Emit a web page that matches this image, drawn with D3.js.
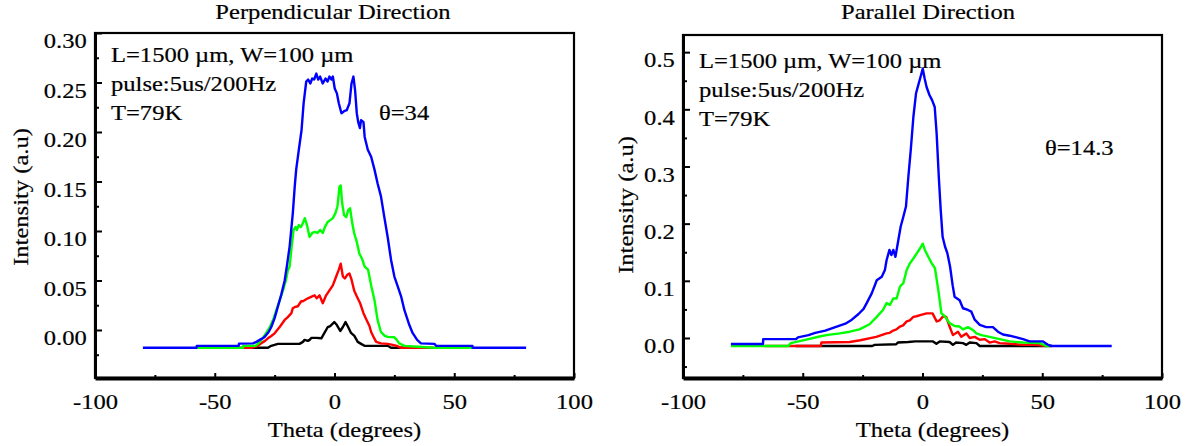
<!DOCTYPE html>
<html>
<head>
<meta charset="utf-8">
<script src="https://cdn.jsdelivr.net/npm/d3@7"></script>
<style>
  body { margin: 0; background: #fff; }
</style>
</head>
<body>
<div id="chart"></div>
<script>
const perpBlue = [[-80,-0.018],[-57.6,-0.018],[-57.5,-0.016],[-40,-0.016],[-39.9,-0.0138],[-34,-0.0135],[-32.6,-0.012],[-30.5,-0.009],[-29.2,-0.007],[-27.5,-0.002],[-26.4,0.003],[-25,0.012],[-23.6,0.024],[-22.2,0.036],[-20.8,0.05],[-19.8,0.066],[-18.75,0.084],[-17.4,0.118],[-16.6,0.145],[-16,0.162],[-14.9,0.182],[-13.75,0.202],[-12.9,0.229],[-11.8,0.251],[-11,0.253],[-10.1,0.249],[-9.3,0.254],[-8.5,0.253],[-7.6,0.259],[-6.8,0.253],[-6,0.256],[-4.9,0.249],[-3.75,0.254],[-2.9,0.251],[-2.1,0.256],[-1.25,0.253],[-0.7,0.256],[0.1,0.244],[1,0.239],[1.8,0.229],[2.9,0.219],[4,0.221],[5.1,0.222],[6.25,0.229],[7.1,0.249],[7.9,0.256],[8.6,0.242],[9.3,0.219],[9.9,0.21],[10.6,0.204],[11.1,0.212],[12.1,0.21],[12.6,0.195],[13.9,0.182],[15.3,0.175],[16.7,0.162],[18,0.148],[19.4,0.135],[20.8,0.114],[22.2,0.094],[23.6,0.071],[25,0.054],[26.4,0.044],[27.8,0.034],[29.2,0.02],[31.25,0.005],[32.6,-0.003],[34.5,-0.01],[36.1,-0.0135],[41.7,-0.014],[42.4,-0.016],[57.6,-0.016],[57.7,-0.018],[80,-0.018]];
const perpGreen = [[-57.6,-0.018],[-38.2,-0.018],[-38.1,-0.016],[-33,-0.016],[-31.5,-0.013],[-29.9,-0.008],[-28.5,-0.003],[-27,0.003],[-25.5,0.011],[-24.3,0.02],[-22.9,0.03],[-21.5,0.04],[-20.3,0.05],[-19.4,0.061],[-18.75,0.064],[-17.9,0.084],[-17.1,0.101],[-16.25,0.104],[-15.7,0.101],[-14.9,0.106],[-14,0.104],[-13.2,0.108],[-12.4,0.113],[-11.5,0.106],[-10.4,0.094],[-9.3,0.098],[-8.2,0.099],[-7.1,0.098],[-6,0.101],[-4.9,0.098],[-4,0.104],[-2.9,0.109],[-1.8,0.111],[-0.7,0.113],[0.4,0.118],[1.25,0.125],[2.1,0.145],[2.6,0.146],[3.2,0.128],[4,0.116],[4.9,0.114],[5.7,0.121],[6.5,0.123],[7.4,0.108],[8.2,0.098],[9.3,0.089],[10.4,0.077],[11.5,0.072],[12.6,0.064],[14,0.061],[15.4,0.044],[16.7,0.03],[18,0.01],[19.4,-0.002],[21,-0.006],[22.2,-0.007],[25,-0.0074],[26,-0.01],[27,-0.0135],[29.2,-0.016],[35,-0.017],[41.7,-0.018],[57.6,-0.018]];
const perpRed = [[-50,-0.018],[-34.7,-0.018],[-32,-0.016],[-30.6,-0.0135],[-29,-0.011],[-27.8,-0.0084],[-26.4,-0.006],[-25,-0.0034],[-22.9,0.003],[-20.8,0.0101],[-19.5,0.013],[-18,0.017],[-17.4,0.022],[-16.7,0.023],[-15.3,0.024],[-13.9,0.029],[-13.2,0.029],[-11.1,0.032],[-9.3,0.034],[-8.3,0.035],[-7.4,0.032],[-6.25,0.035],[-4.9,0.027],[-3.5,0.035],[-2.1,0.04],[-0.7,0.045],[0.7,0.054],[1.8,0.061],[2.6,0.067],[3.5,0.054],[4.3,0.052],[5.4,0.056],[6.25,0.057],[7.1,0.051],[8.2,0.04],[9.3,0.034],[10.7,0.027],[12.1,0.017],[13.2,0.011],[14.6,0.004],[15.3,-0.002],[16.5,-0.008],[17.4,-0.012],[19.4,-0.0135],[22.2,-0.014],[24.3,-0.015],[26,-0.016],[27.8,-0.018],[41.7,-0.018]];
const perpBlack = [[-37.5,-0.018],[-27.8,-0.018],[-26.4,-0.016],[-23.6,-0.014],[-14.6,-0.014],[-13.2,-0.012],[-12.5,-0.01],[-11.1,-0.011],[-10.4,-0.01],[-9.7,-0.008],[-7.6,-0.008],[-5.5,-0.0084],[-4.2,-0.003],[-2.8,0.003],[-1.8,0.004],[-0.1,0.008],[1,0.005],[2.4,-0.001],[3.5,0.003],[4.6,0.008],[5.7,0.003],[6.9,-0.003],[8.3,-0.006],[9.7,-0.012],[11.1,-0.014],[12.5,-0.016],[22.2,-0.016],[23.6,-0.018],[30,-0.018]];

const parBlue = [[-80,-0.0105],[-66.6,-0.0105],[-66.5,-0.002],[-52.8,-0.002],[-52,0.001],[-47.6,0.005],[-44.8,0.009],[-40.6,0.013],[-36.4,0.019],[-32.2,0.025],[-29.5,0.032],[-26.7,0.042],[-24.6,0.051],[-23.3,0.061],[-21.2,0.078],[-19.1,0.101],[-17,0.107],[-15.7,0.119],[-15,0.136],[-13.8,0.154],[-13,0.145],[-12.2,0.154],[-11.3,0.142],[-10.1,0.171],[-9.1,0.195],[-8,0.212],[-6.9,0.23],[-5.9,0.282],[-4.9,0.329],[-3.8,0.387],[-2.7,0.428],[-1.6,0.445],[-0.8,0.457],[0.1,0.471],[0.9,0.454],[1.7,0.439],[2.9,0.425],[4,0.416],[5.1,0.404],[5.9,0.358],[6.8,0.282],[7.6,0.224],[8.4,0.177],[9.4,0.16],[10.4,0.148],[11.5,0.125],[12.6,0.092],[13.4,0.072],[15.5,0.066],[16.9,0.052],[19,0.049],[20.4,0.046],[21.8,0.032],[23.9,0.023],[26.6,0.019],[29.4,0.019],[31.5,0.011],[33.6,0.006],[36.4,0.004],[42,-0.002],[44.7,-0.006],[50.3,-0.006],[52.4,-0.012],[54,-0.014],[79,-0.014]];
const parGreen = [[-80,-0.014],[-56,-0.014],[-55,-0.009],[-48.5,-0.003],[-42.5,0.003],[-40.2,0.005],[-34.6,0.008],[-30.4,0.011],[-26.3,0.015],[-22.1,0.024],[-19.3,0.036],[-16.5,0.049],[-15,0.061],[-13.6,0.058],[-12.2,0.069],[-10.8,0.069],[-9.4,0.09],[-8,0.096],[-6.6,0.119],[-5.2,0.131],[-3.8,0.139],[-2.4,0.148],[-1,0.157],[0.1,0.165],[1,0.154],[2.4,0.142],[3.8,0.131],[5.2,0.122],[6.6,0.084],[7.9,0.043],[9.3,0.038],[11.3,0.026],[13.4,0.021],[15.5,0.02],[16.9,0.015],[19,0.019],[21,0.014],[22.5,0.008],[24.6,0.005],[28,0.002],[32.2,-0.002],[36.4,-0.006],[42,-0.008],[48.9,-0.009],[51.7,-0.014],[53,-0.014]];
const parRed = [[-66,-0.014],[-42.5,-0.014],[-42.2,-0.008],[-30.4,-0.007],[-26,-0.004],[-19.3,0.002],[-15,0.008],[-13.7,0.009],[-12.2,0.013],[-10.9,0.015],[-9.4,0.02],[-8.1,0.022],[-6.6,0.029],[-5.3,0.031],[-3.8,0.037],[-2.5,0.038],[-1,0.04],[1.7,0.043],[4.2,0.043],[5.9,0.029],[7.2,0.031],[8.6,0.038],[9.9,0.037],[11.3,0.02],[12.7,0.005],[14.8,0.011],[16.2,0.002],[18.3,0.008],[19.7,0],[21.8,0.002],[23.9,-0.003],[26,-0.002],[28,-0.008],[30.1,-0.006],[32.2,-0.009],[36.4,-0.01],[42,-0.012],[47.5,-0.012],[51.7,-0.014]];
const parBlack = [[-53,-0.014],[-21,-0.014],[-20,-0.012],[-11,-0.011],[-10.3,-0.008],[-6,-0.007],[-3,-0.006],[0,-0.006],[4.4,-0.006],[5.8,-0.01],[7.2,-0.006],[11.3,-0.007],[12.7,-0.012],[14,-0.008],[16.9,-0.009],[18.3,-0.012],[19.7,-0.008],[22.5,-0.009],[23.9,-0.014],[54,-0.014]];

const xTicks = [-100, -50, 0, 50, 100];
const xMinor = [-75, -25, 25, 75];
const perpYTicks = [0, 0.05, 0.10, 0.15, 0.20, 0.25, 0.30];
const perpYMinor = [-0.025, 0.025, 0.075, 0.125, 0.175, 0.225, 0.275];
const parYTicks = [0, 0.1, 0.2, 0.3, 0.4, 0.5];
const parYMinor = [-0.05, 0.05, 0.15, 0.25, 0.35, 0.45];
const noteLines = ['L=1500 \u00b5m, W=100 \u00b5m', 'pulse:5us/200Hz', 'T=79K'];

const FONT = '"Liberation Serif", "Times New Roman", serif';
const FS = 21;
const STRETCH = 1.17; // the original type is wider than Times

const svg = d3.select('#chart').append('svg')
    .attr('width', 1195)
    .attr('height', 446);

function styleText(sel) {
    return sel.style('font-family', FONT)
        .style('font-size', FS + 'px')
        .attr('fill', '#000')
        .attr('stroke', '#000')
        .attr('stroke-width', 0.2);
}

function label(g, x, y, str, anchor, rotate) {
    const t = g.append('text')
        .attr('transform', `translate(${x},${y})` + (rotate ? ` rotate(${rotate})` : '') + ` scale(${STRETCH},1)`)
        .attr('text-anchor', anchor || 'start')
        .text(str);
    return styleText(t);
}

function panel(opt) {
    const x = d3.scaleLinear().domain([-100, 100]).range([opt.left, opt.left + 479]);
    const y = d3.scaleLinear().domain(opt.yDomain).range([378, opt.top]);
    const g = svg.append('g');

    const line = d3.line().x(d => x(d[0])).y(d => y(d[1]));
    opt.series.forEach(s => {
        g.append('path')
            .datum(s.data)
            .attr('fill', 'none')
            .attr('stroke', s.color)
            .attr('stroke-width', 2.4)
            .attr('stroke-linejoin', 'round')
            .attr('d', line);
    });

    g.append('rect')
        .attr('x', opt.left).attr('y', opt.top)
        .attr('width', 479).attr('height', 378 - opt.top)
        .attr('fill', 'none').attr('stroke', '#000').attr('stroke-width', 2.2);

    const yAxis = g.append('g')
        .attr('transform', `translate(${opt.left},0)`)
        .call(d3.axisLeft(y).tickValues(opt.yTicks).tickFormat(d3.format(opt.yFormat))
            .tickSizeInner(-7).tickSizeOuter(0).tickPadding(7));
    yAxis.select('.domain').attr('stroke-width', 3);
    yAxis.selectAll('.tick line').attr('stroke-width', 2);
    styleText(yAxis.selectAll('.tick text'))
        .attr('dy', '0.7em')
        .attr('transform', `scale(${STRETCH},1)`);
    g.append('g')
        .attr('transform', `translate(${opt.left},0)`)
        .call(d3.axisLeft(y).tickValues(opt.yMinor).tickFormat('').tickSizeInner(-4).tickSizeOuter(0))
        .call(a => a.select('.domain').remove())
        .selectAll('.tick line').attr('stroke-width', 2);

    const xAxis = g.append('g')
        .attr('transform', 'translate(0,378)')
        .call(d3.axisBottom(x).tickValues(xTicks)
            .tickSizeInner(-5).tickSizeOuter(0).tickPadding(16));
    xAxis.select('.domain').attr('stroke-width', 4);
    xAxis.selectAll('.tick line').attr('stroke-width', 2);
    styleText(xAxis.selectAll('.tick text'))
        .attr('transform', `scale(${STRETCH},1)`)
        .text(d => d < 0 ? '-' + Math.abs(d) : d);
    g.append('g')
        .attr('transform', 'translate(0,378)')
        .call(d3.axisBottom(x).tickValues(xMinor).tickFormat('').tickSizeInner(-3).tickSizeOuter(0))
        .call(a => a.select('.domain').remove())
        .selectAll('.tick line').attr('stroke-width', 2);

    label(g, x(0) + 10, 437, 'Theta (degrees)', 'middle');
    label(g, opt.yTitleX, opt.yTitleY, 'Intensity (a.u)', 'middle', -90);
    label(g, opt.titleX, 19, opt.title, 'middle');

    noteLines.forEach((t, i) => {
        label(g, opt.left + 16, opt.noteY + i * 29, t);
    });
    label(g, opt.thetaX, opt.thetaY, opt.thetaLabel);
}

panel({
    left: 95, top: 33, yDomain: [-0.0485, 0.30],
    yTicks: perpYTicks, yMinor: perpYMinor, yFormat: '.2f',
    series: [
        { data: perpBlack, color: '#000000' },
        { data: perpRed, color: '#ff0000' },
        { data: perpGreen, color: '#00ff00' },
        { data: perpBlue, color: '#0000ff' }
    ],
    title: 'Perpendicular Direction', titleX: 333,
    yTitleX: 28, yTitleY: 197, noteY: 62,
    thetaLabel: '\u03b8=34', thetaX: 379, thetaY: 120
});

panel({
    left: 683, top: 35, yDomain: [-0.07, 0.53],
    yTicks: parYTicks, yMinor: parYMinor, yFormat: '.1f',
    series: [
        { data: parBlack, color: '#000000' },
        { data: parRed, color: '#ff0000' },
        { data: parGreen, color: '#00ff00' },
        { data: parBlue, color: '#0000ff' }
    ],
    title: 'Parallel Direction', titleX: 928,
    yTitleX: 633, yTitleY: 205, noteY: 68,
    thetaLabel: '\u03b8=14.3', thetaX: 1045, thetaY: 155
});
</script>
</body>
</html>
